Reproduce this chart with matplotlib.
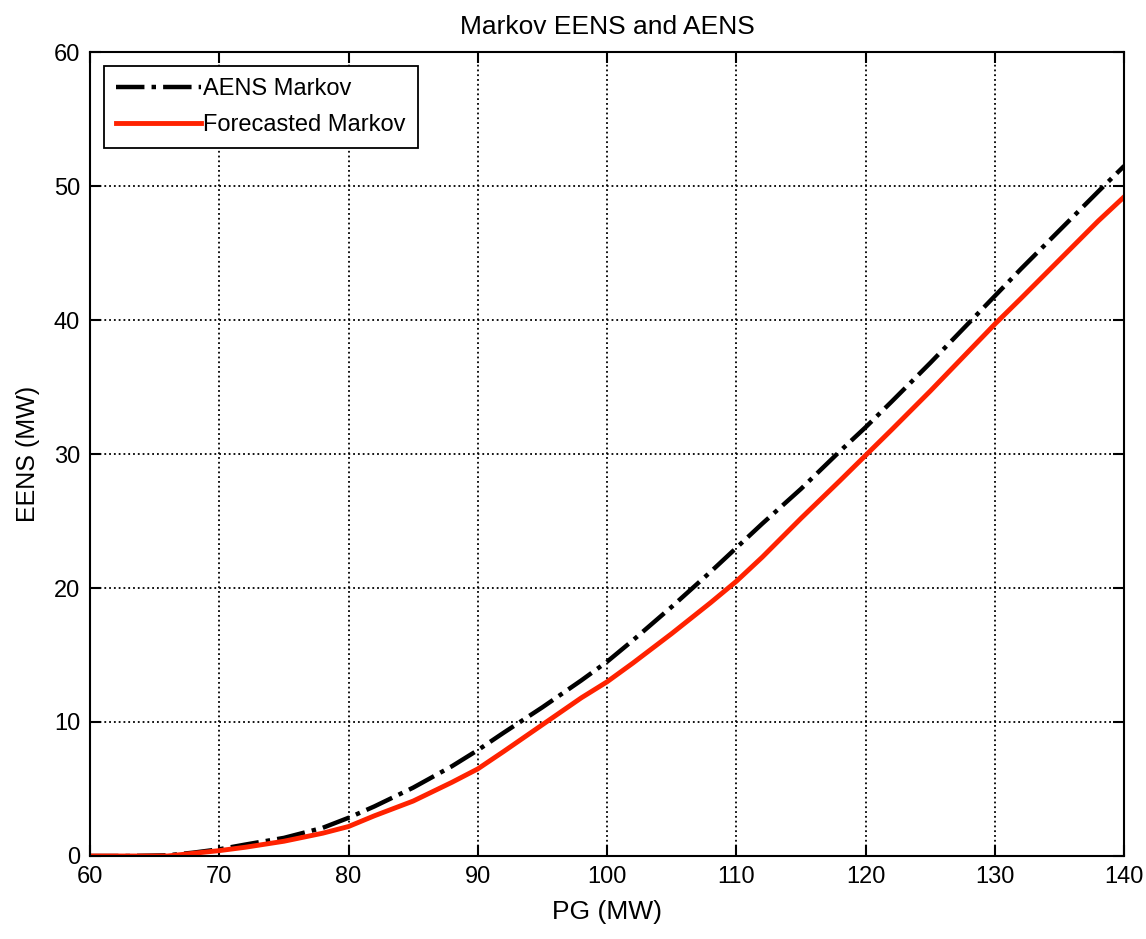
import numpy as np
import matplotlib.pyplot as plt

plt.rcParams['font.family'] = ['Liberation Sans', 'DejaVu Sans']

pg = [60, 63, 66, 68, 70, 72, 75, 78, 80, 82, 85, 88, 90, 92, 95, 98, 100,
      102, 105, 108, 110, 112, 115, 118, 120, 122, 125, 128, 130, 132, 135, 138, 140]
aens_markov = [0.0, 0.0, 0.05, 0.25, 0.5, 0.85, 1.35, 2.1, 2.85, 3.7, 5.1, 6.7, 7.9, 9.2, 11.1, 13.1, 14.5,
               16.1, 18.6, 21.2, 23.0, 24.8, 27.4, 30.2, 32.0, 33.9, 36.8, 39.8, 41.8, 43.8, 46.7, 49.6, 51.5]
forecast_markov = [0.0, 0.0, 0.0, 0.2, 0.4, 0.65, 1.1, 1.7, 2.2, 3.0, 4.1, 5.5, 6.5, 7.8, 9.8, 11.8, 13.0,
                   14.4, 16.6, 18.9, 20.5, 22.3, 25.2, 28.0, 29.9, 31.8, 34.7, 37.7, 39.7, 41.6, 44.5, 47.4, 49.2]

fig = plt.figure(figsize=(11.46, 9.39), dpi=100)
ax = fig.add_axes([0.0785, 0.0884, 0.9025, 0.8562])

ax.plot(pg, aens_markov, color='black', linestyle='-.', linewidth=3.2, label='AENS Markov')
ax.plot(pg, forecast_markov, color='#ff2200', linewidth=3.5, label='Forecasted Markov')

ax.set_xlim(60, 140)
ax.set_ylim(0, 60)
ax.set_xticks(np.arange(60, 141, 10))
ax.set_yticks(np.arange(0, 61, 10))
ax.grid(True, linestyle=':', color='black', linewidth=1.3)
ax.tick_params(direction='in', length=8, width=1.5, labelsize=17, top=True, right=True, pad=7)
for s in ax.spines.values():
    s.set_linewidth(1.5)

ax.set_xlabel('PG (MW)', fontsize=19, labelpad=9)
ax.set_ylabel('EENS (MW)', fontsize=18, labelpad=10)
ax.set_title('Markov EENS and AENS', fontsize=19, pad=13)

leg = ax.legend(loc='upper left', fontsize=17, fancybox=False, framealpha=1,
                edgecolor='black', borderaxespad=0.6, handlelength=3.6, handletextpad=0.1,
                labelspacing=0.6, borderpad=0.5)
leg.get_frame().set_linewidth(1.3)

fig.savefig('out.png', dpi=100)
